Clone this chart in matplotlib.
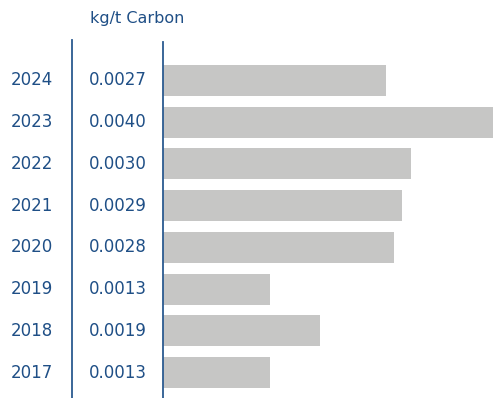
import matplotlib
matplotlib.use("Agg")
import matplotlib.pyplot as plt
from matplotlib.lines import Line2D

years = ["2017", "2018", "2019", "2020", "2021", "2022", "2023", "2024"]
values = [0.0013, 0.0019, 0.0013, 0.0028, 0.0029, 0.0030, 0.0040, 0.0027]
value_labels = ["0.0013", "0.0019", "0.0013", "0.0028", "0.0029", "0.0030", "0.0040", "0.0027"]
unit_label = "kg/t Carbon"

W, H = 493, 398
fig = plt.figure(figsize=(W / 100, H / 100), dpi=100)
text_color = "#1f4f86"
line_color = "#2b5a90"

ax_left = 163 / W
ax_right = 493 / W
ax_bottom = 0.0
ax_top = 1 - 42 / H
ax = fig.add_axes([ax_left, ax_bottom, ax_right - ax_left, ax_top - ax_bottom])

pos = list(range(len(years)))
ax.barh(pos, values, height=0.74, color="#c6c6c5", zorder=2)
ax.set_xlim(0, 0.0040)
ax.set_ylim(-0.61, 7.92)
for s in ["top", "right", "bottom"]:
    ax.spines[s].set_visible(False)
ax.spines["left"].set_color(line_color)
ax.spines["left"].set_linewidth(1.3)
ax.set_xticks([])
ax.set_yticks([])

for p, y, lab in zip(pos, years, value_labels):
    ax.annotate(y, xy=(0, p), xycoords=("axes fraction", "data"),
                xytext=(53 - 163, 0), textcoords="offset pixels",
                ha="right", va="center", color=text_color, fontsize=12)
    ax.annotate(lab, xy=(0, p), xycoords=("axes fraction", "data"),
                xytext=(89 - 163, 0), textcoords="offset pixels",
                ha="left", va="center", color=text_color, fontsize=12)

fig.text(90 / W, 1 - 19 / H, unit_label, ha="left", va="center",
         color=text_color, fontsize=11.5)

fig.add_artist(Line2D([72 / W, 72 / W], [0, 1 - 40 / H], transform=fig.transFigure,
                      color=line_color, linewidth=1.3))

fig.savefig("out.png", dpi=100)
